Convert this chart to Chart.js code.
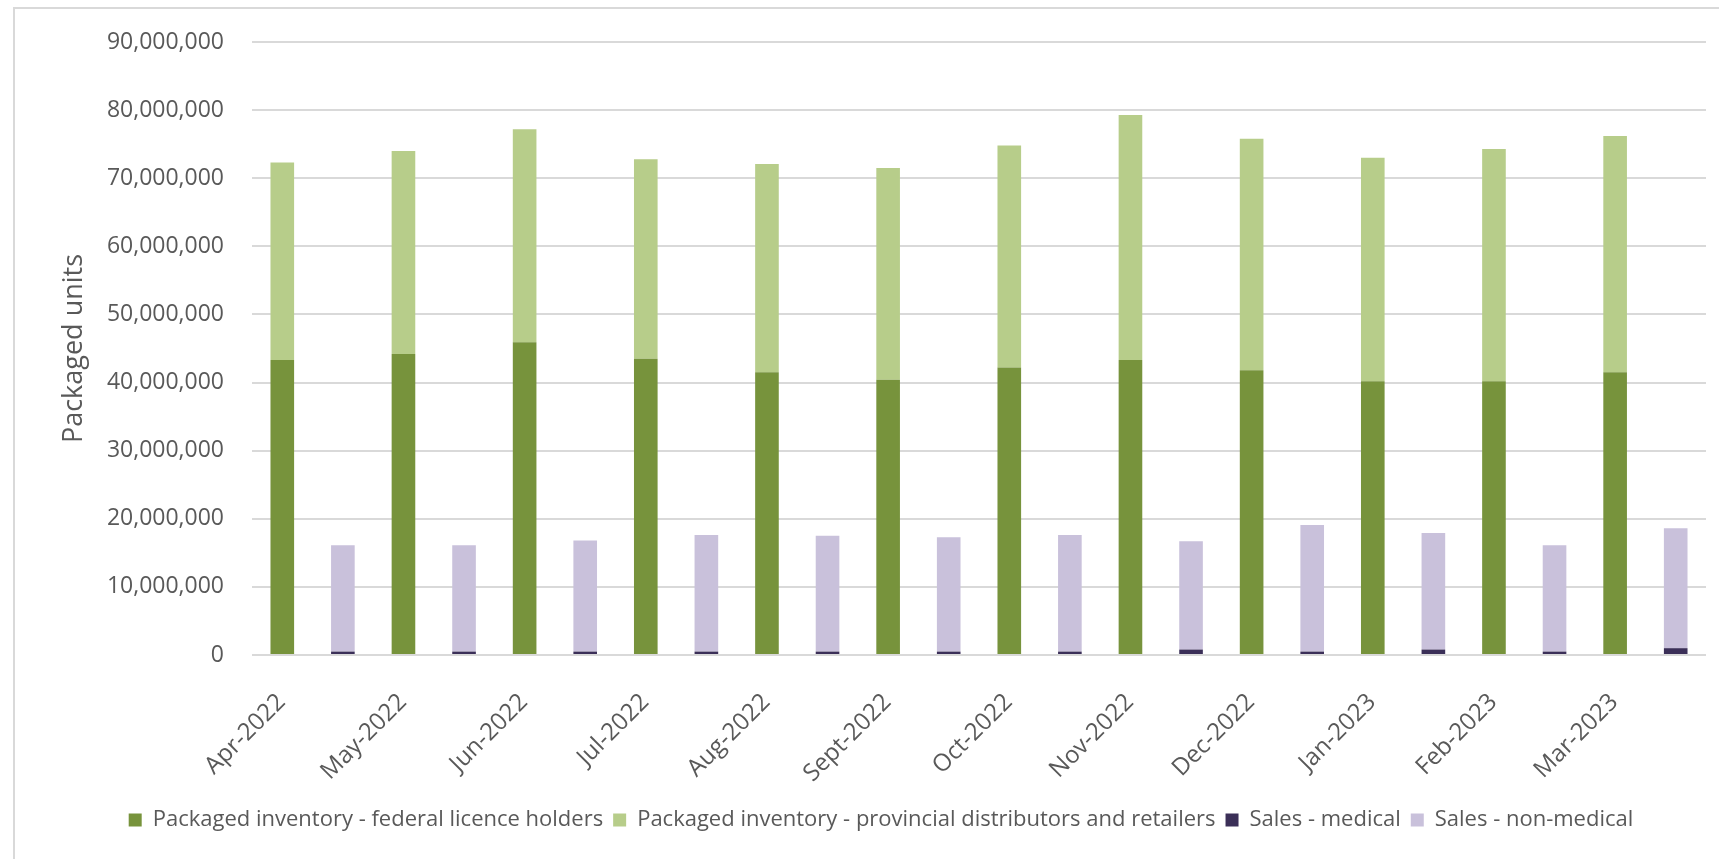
<!DOCTYPE html>
<html>
<head>
<meta charset="utf-8">
<script src="https://cdn.jsdelivr.net/npm/chart.js@4.4.1/dist/chart.umd.min.js"></script>
<style>
  html, body { margin: 0; padding: 0; background: #fff; overflow: hidden; }
  #frame {
    position: absolute; left: 13px; top: 7px; width: 1720px; height: 900px;
    border-left: 2px solid #d9d9d9; border-top: 2px solid #d9d9d9;
  }
  #chart { position: absolute; left: 0; top: 0; }
</style>
</head>
<body>
<div id="frame"></div>
<canvas id="chart" width="1719" height="859"></canvas>
<script>
const months = ['Apr-2022', 'May-2022', 'Jun-2022', 'Jul-2022', 'Aug-2022', 'Sept-2022',
  'Oct-2022', 'Nov-2022', 'Dec-2022', 'Jan-2023', 'Feb-2023', 'Mar-2023'];

// packaged units
const federalInventory = [43300000, 44200000, 45900000, 43500000, 41500000, 40400000,
  42200000, 43300000, 41800000, 40200000, 40200000, 41500000];
const provincialInventory = [29000000, 29800000, 31300000, 29300000, 30600000, 31100000,
  32600000, 36000000, 34000000, 32800000, 34100000, 34700000];
const medicalSales = [500000, 500000, 500000, 500000, 500000, 500000,
  500000, 800000, 500000, 800000, 500000, 1000000];
const nonMedicalSales = [15600000, 15600000, 16300000, 17100000, 17000000, 16800000,
  17100000, 15900000, 18600000, 17100000, 15600000, 17600000];

const textColor = '#595959';
const fontFamily = "'Open Sans', 'Noto Sans', sans-serif";

const ctx = document.getElementById('chart').getContext('2d');
new Chart(ctx, {
  type: 'bar',
  data: {
    labels: months,
    datasets: [
      { label: 'Packaged inventory - federal licence holders', data: federalInventory, backgroundColor: '#77933c', stack: 'inventory' },
      { label: 'Packaged inventory - provincial distributors and retailers', data: provincialInventory, backgroundColor: '#b7cd8a', stack: 'inventory' },
      { label: 'Sales - medical', data: medicalSales, backgroundColor: '#3b2f58', stack: 'sales' },
      { label: 'Sales - non-medical', data: nonMedicalSales, backgroundColor: '#c9c1db', stack: 'sales' }
    ]
  },
  options: {
    responsive: false,
    animation: false,
    categoryPercentage: 1.0,
    barPercentage: 0.39,
    layout: { padding: { left: 56, right: 13, top: 42, bottom: 18 } },
    plugins: {
      tooltip: { enabled: false },
      legend: {
        position: 'bottom',
        labels: {
          color: textColor,
          boxWidth: 13,
          boxHeight: 13,
          padding: 10,
          font: { family: fontFamily, size: 22 }
        }
      }
    },
    scales: {
      x: {
        stacked: true,
        grid: { display: false },
        border: { display: false },
        afterFit: (scale) => { scale.height = 144; },
        ticks: {
          color: textColor,
          autoSkip: false,
          maxRotation: 45,
          minRotation: 45,
          padding: 25,
          labelOffset: -31,
          font: { family: fontFamily, size: 24 }
        }
      },
      y: {
        stacked: true,
        min: 0,
        max: 90000000,
        border: { display: false },
        grid: { color: '#d9d9d9', lineWidth: 2, drawTicks: false },
        afterFit: (scale) => { scale.width = 196; },
        title: {
          display: true,
          text: 'Packaged units',
          color: textColor,
          padding: { top: 2, bottom: 4 },
          font: { family: fontFamily, size: 27 }
        },
        ticks: {
          color: textColor,
          stepSize: 10000000,
          padding: 28,
          font: { family: fontFamily, size: 23 },
          callback: (value) => value.toLocaleString('en-US')
        }
      }
    }
  }
});
</script>
</body>
</html>
